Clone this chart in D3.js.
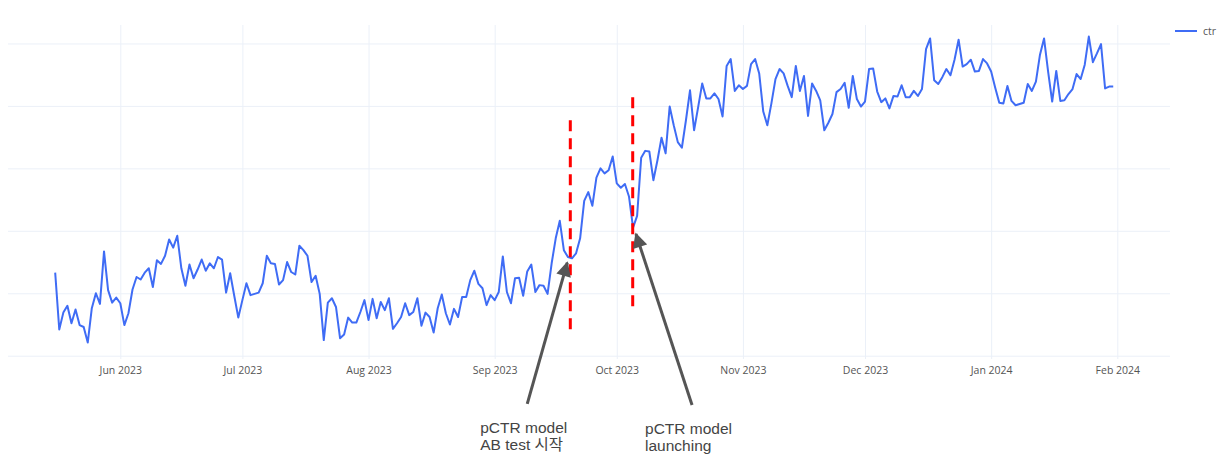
<!DOCTYPE html>
<html>
<head>
<meta charset="utf-8">
<script src="https://cdn.jsdelivr.net/npm/d3@7"></script>
<style>
  html, body { margin: 0; padding: 0; background: #ffffff; }
  svg { display: block; }
</style>
</head>
<body>
<div id="chart"></div>
<script>
// ---------------- data ----------------
const seriesName = "ctr";
const startDate = "2023-05-16";           // first daily observation
const ctr = [
  1.33,0.42,0.69,0.80,0.52,0.74,0.49,0.46,0.21,0.76,1.00,0.83,1.67,1.05,0.85,0.93,
  0.84,0.49,0.68,1.06,1.26,1.22,1.33,1.40,1.10,1.53,1.47,1.60,1.86,1.73,1.92,1.40,
  1.12,1.46,1.24,1.38,1.54,1.36,1.48,1.40,1.58,1.54,1.01,1.32,0.96,0.61,
  0.89,1.16,0.97,0.99,1.01,1.16,1.60,1.48,1.47,1.14,1.21,1.50,1.34,1.30,1.76,1.69,
  1.60,1.18,1.28,0.99,0.25,0.85,0.92,0.78,0.28,0.34,0.61,0.53,0.53,0.70,0.89,
  0.57,0.91,0.60,0.86,0.73,0.92,0.43,0.52,0.62,0.84,0.65,0.70,0.92,0.48,0.69,0.62,
  0.37,0.76,0.98,0.68,0.50,0.75,0.62,0.94,0.94,1.21,1.36,1.15,1.08,0.81,0.97,
  0.89,1.02,1.59,1.02,0.84,1.24,1.25,0.96,1.35,1.46,1.02,1.13,1.12,0.99,1.48,1.88,
  2.16,1.69,1.58,1.56,1.64,1.88,2.48,2.62,2.40,2.85,3.00,2.92,2.97,3.19,
  2.76,2.69,2.75,2.55,2.05,2.24,3.17,3.28,3.27,2.81,3.13,3.49,3.24,3.99,3.69,3.42,
  3.33,3.77,4.25,3.61,3.98,4.36,4.12,4.12,4.20,4.11,3.83,4.64,4.75,4.24,4.33,
  4.27,4.32,4.67,4.75,4.52,3.91,3.69,4.04,4.43,4.59,4.52,4.32,4.14,4.64,4.24,4.48,
  3.84,4.36,4.24,4.09,3.61,3.73,3.87,4.22,4.27,4.37,3.97,4.48,4.11,3.99,
  4.07,4.59,4.60,4.23,4.06,4.12,3.96,4.16,4.15,4.33,4.14,4.14,4.24,4.16,4.27,4.91,
  5.08,4.41,4.35,4.46,4.59,4.49,4.74,5.06,4.63,4.67,4.74,4.55,4.56,4.75,4.68,
  4.55,4.29,4.05,4.04,4.32,4.08,4.01,4.03,4.05,4.35,4.24,4.39,4.82,5.08,4.55,4.07,
  4.56,4.08,4.09,4.19,4.27,4.51,4.43,4.66,5.11,4.70,4.84,4.99,4.28,4.31,4.31
];
const monthTicks = ["2023-06-01","2023-07-01","2023-08-01","2023-09-01","2023-10-01",
                    "2023-11-01","2023-12-01","2024-01-01","2024-02-01"];
const yTicks = [0, 1, 2, 3, 4, 5];

// annotation data (dates and values in chart units)
const markerLines = [
  { date: "2023-09-19T14:00", from: 0.36, to: 3.77 },
  { date: "2023-10-04T22:00", from: 0.70, to: 4.14 }
];
const arrows = [
  { tailDate: "2023-09-09T00:00", tailValue: -0.77, tipDate: "2023-09-18T20:00", tipValue: 1.49,
    lines: ["pCTR model", "AB test 시작"] },
  { tailDate: "2023-10-19T12:00", tailValue: -0.79, tipDate: "2023-10-05T17:00", tipValue: 1.95,
    lines: ["pCTR model", "launching"] }
];

// ---------------- layout ----------------
const W = 1229, H = 461;
const plot = { left: 8, right: 1170, top: 25, bottom: 359 };

const parse = d3.utcParse("%Y-%m-%d");
const parseT = d3.utcParse("%Y-%m-%dT%H:%M");
const start = parse(startDate);
const data = ctr.map((v, i) => ({ date: d3.utcDay.offset(start, i), value: v }));

const x = d3.scaleUtc()
  .domain([parse("2023-06-01"), parse("2024-02-01")])
  .range([120.3, 1117.3]);
const y = d3.scaleLinear()
  .domain([0, 5])
  .range([355.7, 43.45]);

const svg = d3.select("#chart").append("svg")
  .attr("width", W).attr("height", H)
  .style("font-family", "'Open Sans', 'Noto Sans', sans-serif");

// horizontal grid
const yAxis = d3.axisLeft(y).tickValues(yTicks).tickSize(-(plot.right - plot.left)).tickFormat("");
const gy = svg.append("g").attr("transform", `translate(${plot.left},0)`).call(yAxis);
gy.select(".domain").remove();
gy.selectAll(".tick line").attr("stroke", "#ebf0f8").attr("stroke-width", 1);

// vertical grid + month labels
const xAxis = d3.axisBottom(x)
  .tickValues(monthTicks.map(parse))
  .tickSize(-(plot.bottom - plot.top))
  .tickPadding(8)
  .tickFormat(d3.utcFormat("%b %Y"));
const gx = svg.append("g").attr("transform", `translate(0,${plot.bottom})`).call(xAxis);
gx.select(".domain").remove();
gx.selectAll(".tick line").attr("stroke", "#ebf0f8").attr("stroke-width", 1);
gx.selectAll(".tick text")
  .attr("fill", "#555").attr("font-size", "10.5px")
  .attr("font-family", "'Open Sans', sans-serif");

// series line
const line = d3.line().x(d => x(d.date)).y(d => y(d.value));
svg.append("path").datum(data)
  .attr("fill", "none")
  .attr("stroke", "#3f6cf5")
  .attr("stroke-width", 2)
  .attr("stroke-linejoin", "round")
  .attr("d", line);

// legend
const lg = svg.append("g").attr("transform", "translate(1175,31)");
lg.append("line").attr("x1", 0).attr("x2", 22).attr("y1", 0).attr("y2", 0)
  .attr("stroke", "#3f6cf5").attr("stroke-width", 2);
lg.append("text").attr("x", 28).attr("y", 4).text(seriesName)
  .attr("fill", "#555").attr("font-size", "10.5px");

// red dashed markers
svg.append("g").selectAll("line").data(markerLines).join("line")
  .attr("x1", d => x(parseT(d.date))).attr("x2", d => x(parseT(d.date)))
  .attr("y1", d => y(d.to)).attr("y2", d => y(d.from))
  .attr("stroke", "#ff0000").attr("stroke-width", 3)
  .attr("stroke-dasharray", "11,7");

// arrows
const defs = svg.append("defs");
defs.append("marker").attr("id", "ah")
  .attr("viewBox", "0 0 10 10").attr("refX", 9).attr("refY", 5)
  .attr("markerWidth", 5.5).attr("markerHeight", 5)
  .attr("markerUnits", "strokeWidth")
  .attr("orient", "auto")
  .append("path").attr("d", "M0,0 L10,5 L0,10 Z").attr("fill", "#555");

const ag = svg.append("g");
arrows.forEach(a => {
  const tx = x(parseT(a.tailDate)), ty = y(a.tailValue);
  const hx = x(parseT(a.tipDate)), hy = y(a.tipValue);
  ag.append("line")
    .attr("x1", tx).attr("y1", ty).attr("x2", hx).attr("y2", hy)
    .attr("stroke", "#555").attr("stroke-width", 3)
    .attr("marker-end", "url(#ah)");
  const t = ag.append("text")
    .attr("x", tx - 47).attr("y", ty + 29)
    .attr("fill", "#444").attr("font-size", "15.5px")
    .attr("font-family", "'Liberation Sans', Arial, 'Noto Sans CJK KR', sans-serif");
  a.lines.forEach((s, i) => {
    t.append("tspan").attr("x", tx - 47).attr("dy", i === 0 ? 0 : 17).text(s);
  });
});
</script>
</body>
</html>
